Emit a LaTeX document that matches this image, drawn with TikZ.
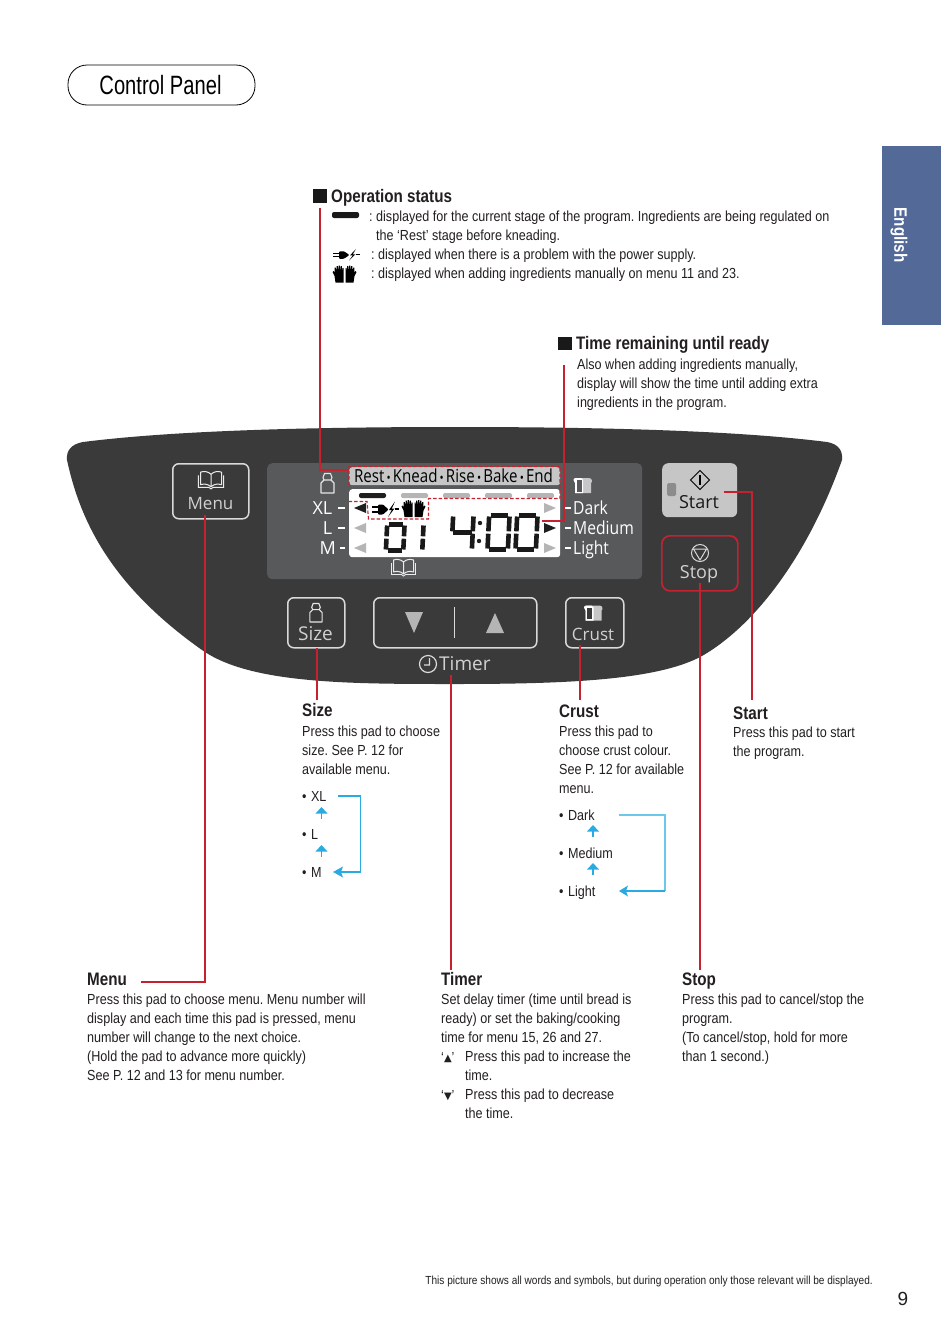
\documentclass[tikz,border=0pt]{standalone}
\usepackage{fontspec}
\setmainfont{Liberation Sans}
\newfontfamily\bodyf[FakeStretch=0.862]{Liberation Sans}
\newfontfamily\headf[FakeStretch=0.84]{Liberation Sans}
\newfontfamily\titlef[FakeStretch=0.76]{Liberation Sans}
\newfontfamily\panelf{Open Sans}
\newfontfamily\panelc[FakeStretch=0.87]{Open Sans}
\newfontfamily\panelt[FakeStretch=0.84]{Open Sans}
\newfontfamily\symf{DejaVu Sans}
\frenchspacing
\definecolor{paneldark}{HTML}{3A3A3B}
\definecolor{screengray}{HTML}{58595B}
\definecolor{lightpad}{HTML}{C6C6C7}
\definecolor{redline}{HTML}{C4222F}
\definecolor{skyline}{HTML}{29ABE2}
\definecolor{skylight}{HTML}{6CC8EA}
\definecolor{tabblue}{HTML}{536A99}
\definecolor{midgray}{HTML}{B5B5B6}
\definecolor{inktext}{HTML}{231F20}
\tikzset{
  x=1pt,y=-1pt,
  para/.style={anchor=north west,inner sep=0pt,align=left,text=inktext,
    font=\bodyf\fontsize{14.6}{19}\selectfont,execute at begin node={\rule{0pt}{11pt}}},
  head/.style={anchor=base west,inner sep=0pt,text=inktext,font=\headf\fontsize{18.1}{20}\bfseries\selectfont},
  padbox/.style={draw=white!85!black,line width=1.5pt,rounded corners=6pt,anchor=north west,inner sep=0pt},
  padtext/.style={inner sep=0pt,text height=13pt,text depth=0pt,text=white!82!black,font=\panelf\fontsize{18}{20}\selectfont},
  lcdtext/.style={inner sep=0pt,text height=13pt,text depth=0pt,text=white,font=\panelc\fontsize{18}{20}\selectfont},
  tick/.style={white,line width=1.2pt},
  redconn/.style={draw=redline,line width=1.1pt},
  reddash/.style={draw=redline,line width=1.1pt,dash pattern=on 3.5pt off 2pt},
  skyconn/.style={draw=skyline,line width=1.2pt},
  skyhead/.style={fill=skyline,draw=none},
  seg/.style={black!90,line width=4.6pt},
}
\newcommand\dig[5]{\begin{scope}[shift={(#1,#2)},xslant=0.05]\def\W{#3}\def\H{#4}#5\end{scope}}
\newcommand\sA{\draw[seg] (4,2.3) -- ({\W-4},2.3);}
\newcommand\sD{\draw[seg] (4,{\H-2.3}) -- ({\W-4},{\H-2.3});}
\newcommand\sG{\draw[seg] (3,{\H/2}) -- ({\W-3},{\H/2});}
\newcommand\sB{\draw[seg] ({\W-2.3},3.5) -- ({\W-2.3},{\H/2-1.2});}
\newcommand\sC{\draw[seg] ({\W-2.3},{\H/2+1.2}) -- ({\W-2.3},{\H-3.5});}
\newcommand\sF{\draw[seg] (2.3,3.5) -- (2.3,{\H/2-1.2});}
\newcommand\sE{\draw[seg] (2.3,{\H/2+1.2}) -- (2.3,{\H-3.5});}
% icons, centred on #1,#2
\newcommand\handsicon[3]{\begin{scope}[shift={(#1,#2)},scale=#3]
 \foreach \s in {-1,1}{\begin{scope}[xscale=\s]
  \fill[black] (1,-2) -- (1,8.5) -- (9,8.5) -- (10,2) -- (12,-2) -- (10.8,-3) -- (9.8,-1) -- (9.8,-6.5) -- (8.6,-6.5) -- (8.2,-1.5)
   -- (7.8,-8) -- (6.6,-8) -- (6.2,-1.5) -- (5.8,-8.5) -- (4.6,-8.5) -- (4.2,-1.5) -- (3.8,-8) -- (2.6,-8) -- (2.2,-1.5) -- (1.9,-6) -- (1,-6) -- cycle;
 \end{scope}}\end{scope}}
\newcommand\plugicon[3]{\begin{scope}[shift={(#1,#2)},scale=#3]
 \draw[black,line width=1.1pt] (-13,-2.5) -- (-6,-2.5) (-13,2.5) -- (-6,2.5) (10,-.5) -- (13.5,-.5);
 \fill[black,rounded corners=1pt] (-7,-5) -- (-2,-5) -- (3.5,0) -- (-2,5) -- (-7,5) -- cycle;
 \fill[black] (10,-8) -- (4,.5) -- (6.8,.5) -- (3,7.5) -- (9.5,-1) -- (6.8,-1) -- cycle;
 \end{scope}}
\newcommand\weighticon[3]{\begin{scope}[shift={(#1,#2)},scale=#3]
 \draw[white!90!black,line width=1.1pt,line join=round] (-3.5,-3) -- (-6.5,0) -- (-6.5,10) -- (6.5,10) -- (6.5,0) -- (3.5,-3) -- cycle;
 \draw[white!90!black,line width=1.1pt,line join=round] (-3.5,-3) -- (-4.5,-5.5) -- (-3,-9.5) -- (3,-9.5) -- (4.5,-5.5) -- (3.5,-3);
 \end{scope}}
\newcommand\breadicon[4]{\begin{scope}[shift={(#1,#2)},scale=#3]
 \fill[white!78!black] (-8,7.5) -- (-8,-2.5) .. controls (-10,-4) and (-10,-7.5) .. (-7,-7.5) -- (6,-7.5) .. controls (9.5,-7.5) and (9.5,-3) .. (8,-2.5) -- (8,7.5) -- cycle;
 \fill[white] (-8,7.5) -- (-8,-2.5) .. controls (-10,-4) and (-10,-7.5) .. (-7,-7.5) -- (-2,-7.5) -- (0,-6) -- (0,7.5) -- cycle;
 \fill[#4] (-6.3,-5.5) -- (-1.5,-5.5) -- (-1.5,6) -- (-6.3,6) -- cycle;
 \end{scope}}
\newcommand\bookicon[3]{\begin{scope}[shift={(#1,#2)},scale=#3]
 \draw[white!92!black,line width=1pt,line join=round] (0,-5) .. controls (-3,-8) and (-7,-8) .. (-10,-7) -- (-10,5) .. controls (-7,4) and (-3,4) .. (0,7) .. controls (3,4) and (7,4) .. (10,5) -- (10,-7) .. controls (7,-8) and (3,-8) .. (0,-5) -- (0,7);
 \draw[white!92!black,line width=.9pt] (-12,-4) -- (-12,7.5) -- (-2,7.5) -- (0,9) -- (2,7.5) -- (12,7.5) -- (12,-4);
 \end{scope}}
\begin{document}
\begin{tikzpicture}
\useasboundingbox (0,0) rectangle (950,1344);
\fill[white] (0,0) rectangle (950,1344);

% title and side tab
\node[draw=black,line width=.8pt,rounded corners=19pt,minimum width=187pt,minimum height=40pt,inner sep=0pt,
  font=\titlef\fontsize{26.5}{30}\selectfont] (title) at (161.5,85) {\kern-2pt Control Panel};
\node[fill=tabblue,minimum width=59pt,minimum height=179pt,inner sep=0pt] (tab) at (911.5,235.5) {};
\node[rotate=-90,text=white,inner sep=0pt,font=\headf\fontsize{18}{20}\bfseries\selectfont] (tabtext) at (899,235) {English};

% panel body
\fill[paneldark] (67,460) .. controls (66,450) and (72,444) .. (83,442)
  .. controls (170,431) and (300,427) .. (455,427)
  .. controls (610,427) and (740,431) .. (827,442)
  .. controls (838,444) and (843,450) .. (842,460)
  .. controls (810,550) and (760,620) .. (707,653)
  .. controls (665,680) and (570,684) .. (455,684)
  .. controls (350,684) and (250,684) .. (202,650)
  .. controls (110,585) and (80,520) .. (67,460) -- cycle;

% display
\node[fill=screengray,rounded corners=5pt,minimum width=375pt,minimum height=116pt,inner sep=0pt,anchor=north west] (screen) at (267,463) {};
\node[fill=lightpad,rounded corners=3pt,minimum width=211pt,minimum height=18pt,inner sep=0pt,anchor=north west] (stagebar) at (349,467) {};
\node[inner sep=0pt,text=black,font=\panelt\fontsize{18}{20}\selectfont] (stagetext) at (453.5,476) {Rest{\fontsize{13}{13}\selectfont\,•\,}Knead{\fontsize{13}{13}\selectfont\,•\,}Rise{\fontsize{13}{13}\selectfont\,•\,}Bake{\fontsize{13}{13}\selectfont\,•\,}End};
\node[fill=white,rounded corners=3pt,minimum width=211pt,minimum height=68pt,inner sep=0pt,anchor=north west] (lcd) at (349,489) {};
\fill[black!88,rounded corners=2pt] (359,493) rectangle (386,498);
\foreach \bx in {401,443,485,527}{\fill[midgray,rounded corners=1.5pt] (\bx,493) rectangle ({\bx+27},498);}
% side triangles
\fill[black!88] (354,508) -- (366,503) -- (366,513) -- cycle;
\fill[midgray] (354,528) -- (366,523) -- (366,533) -- cycle;
\fill[midgray] (354,548) -- (366,543) -- (366,553) -- cycle;
\fill[midgray] (556,508) -- (544,503) -- (544,513) -- cycle;
\fill[black!88] (556,528) -- (544,523) -- (544,533) -- cycle;
\fill[midgray] (556,548) -- (544,543) -- (544,553) -- cycle;
% digits
\dig{385}{522}{22}{31}{\sA\sB\sC\sD\sE\sF}
\dig{404}{522}{22}{31}{\sB\sC}
\dig{451}{513}{25}{39}{\sF\sG\sB\sC}
\dig{487}{513}{25}{39}{\sA\sB\sC\sD\sE\sF}
\dig{515}{513}{25}{39}{\sA\sB\sC\sD\sE\sF}
\fill[black!88] (480,523) circle (2.2) (479,541) circle (2.2);
\plugicon{385}{509.5}{1}
\handsicon{413.5}{508.5}{1}
% display side labels
\weighticon{327.5}{483}{1}
\breadicon{583}{485.5}{1}{screengray}
\bookicon{403.5}{567}{1}
\node[lcdtext,font=\panelf\fontsize{18}{20}\selectfont,anchor=east] (xl) at (332.5,508) {XL};
\node[lcdtext,font=\panelf\fontsize{18}{20}\selectfont,anchor=east] (ll) at (332.5,528) {L};
\node[lcdtext,font=\panelf\fontsize{18}{20}\selectfont,anchor=east] (mm) at (336,548) {M};
\foreach \yy in {508,528}{\draw[tick] (338,\yy) -- (345,\yy);}
\draw[tick] (340,548) -- (345,548);
\foreach \yy in {508,528,548}{\draw[tick] (565,\yy) -- (571,\yy);}
\node[lcdtext,anchor=west] (dk) at (573,508) {Dark};
\node[lcdtext,anchor=west] (md) at (573,528) {Medium};
\node[lcdtext,anchor=west] (lt) at (573,548) {Light};

% pads
\node[padbox,minimum width=76pt,minimum height=55pt] (menupad) at (172,463) {};
\bookicon{211}{479.5}{1.05}
\node[padtext,font=\panelf\fontsize{17}{20}\selectfont] (menutext) at (210.5,503) {Menu};
\node[fill=lightpad,rounded corners=6pt,minimum width=75pt,minimum height=54pt,inner sep=0pt,anchor=north west] (startpad) at (662,463) {};
\node[fill=black!45,rounded corners=1.5pt,minimum width=9pt,minimum height=13pt,inner sep=0pt] (led) at (671.5,489.5) {};
\draw[black,line width=1pt] (700,470.5) -- (709.5,480) -- (700,489.5) -- (690.5,480) -- cycle;
\draw[black,line width=1.4pt] (700,475) -- (700,485);
\node[padtext,text=black!90] (starttext) at (699,501.5) {Start};
\node[draw=redline,line width=1.7pt,rounded corners=8pt,minimum width=76pt,minimum height=55pt,inner sep=0pt,anchor=north west] (stoppad) at (661,535) {};
\draw[white!85!black,line width=1pt] (700,553) circle (8.5);
\draw[white!85!black,line width=1pt,line join=round] (693.5,549) -- (706.5,549) -- (700,560) -- cycle;
\node[padtext] (stoptext) at (699,572) {Stop};
\node[padbox,minimum width=57pt,minimum height=50pt] (sizepad) at (287,597) {};
\weighticon{316}{612.5}{.95}
\node[padtext,font=\panelf\fontsize{19}{20}\selectfont] (sizetext) at (315.5,634) {Size};
\node[padbox,minimum width=163pt,minimum height=50pt] (timerpad) at (373,597) {};
\fill[midgray] (405,612) -- (423,612) -- (414,633) -- cycle;
\fill[midgray] (486,633) -- (504,633) -- (495,613) -- cycle;
\draw[white!85!black,line width=1.2pt] (454.5,607) -- (454.5,638);
\node[padbox,minimum width=58pt,minimum height=50pt] (crustpad) at (565,597) {};
\breadicon{593.5}{613}{1}{paneldark}
\node[padtext,font=\panelf\fontsize{17}{20}\selectfont] (crusttext) at (593,634) {Crust};
\draw[white!85!black,line width=1.2pt] (428,664) circle (8.5) (429.5,658) -- (429.5,665) -- (424,665);
\node[padtext,font=\panelf\fontsize{19}{20}\selectfont,anchor=west] (timertext) at (439,664) {Timer};

% operation status
\fill[black!90] (313,189) rectangle (327,203);
\node[head] (ophead) at (331,202) {Operation status};
\fill[black!90,rounded corners=2pt] (332,212) rectangle (359,218);
\node[para] (op1) at (369,210) {: displayed for the current stage of the program. Ingredients are being regulated on};
\node[para] (op2) at (376,229) {the ‘Rest’ stage before kneading.};
\begin{scope}[shift={(346,255)},yscale=.75]\plugicon{0}{0}{1}\end{scope}
\node[para] (op3) at (371,248) {: displayed when there is a problem with the power supply.};
\handsicon{344.5}{274}{1}
\node[para] (op4) at (371,267) {: displayed when adding ingredients manually on menu 11 and 23.};
% time remaining
\fill[black!90] (558,337) rectangle (572,350);
\node[head] (tmhead) at (576,349) {Time remaining until ready};
\node[para] (tmbody) at (577,359) {Also when adding ingredients manually,\\display will show the time until adding extra\\ingredients in the program.};
% pad descriptions
\node[head] (szhead) at (302,716) {Size};
\node[para] (szbody) at (302,726) {Press this pad to choose\\size. See P. 12 for\\available menu.};
\node[para] (szxl) at (302,790) {•\hspace{4.5pt}XL};
\node[para] (szl) at (302,828) {•\hspace{4.5pt}L};
\node[para] (szm) at (302,866) {•\hspace{4.5pt}M};
\node[head] (crhead) at (559,717) {Crust};
\node[para] (crbody) at (559,726) {Press this pad to\\choose crust colour.\\See P. 12 for available\\menu.};
\node[para] (crd) at (559,809) {•\hspace{4.5pt}Dark};
\node[para] (crm) at (559,847) {•\hspace{4.5pt}Medium};
\node[para] (crl) at (559,885) {•\hspace{4.5pt}Light};
\node[head] (sthead) at (733,719) {Start};
\node[para] (stbody) at (733,727) {Press this pad to start\\the program.};
\node[head] (mnhead) at (87,985) {Menu};
\node[para] (mnbody) at (87,994) {Press this pad to choose menu. Menu number will\\display and each time this pad is pressed, menu\\number will change to the next choice.\\(Hold the pad to advance more quickly)\\See P. 12 and 13 for menu number.};
\node[head] (tihead) at (441,985) {Timer};
\node[para] (tibody) at (441,994) {Set delay timer (time until bread is\\ready) or set the baking/cooking\\time for menu 15, 26 and 27.};
\node[para] (tiup) at (441,1051) {‘\raisebox{.8pt}{\symf\fontsize{10}{10}\selectfont ▲}’};
\node[para] (tiupt) at (465,1051) {Press this pad to increase the\\time.};
\node[para] (tidn) at (441,1089) {‘\raisebox{.8pt}{\symf\fontsize{10}{10}\selectfont ▼}’};
\node[para] (tidnt) at (465,1089) {Press this pad to decrease\\the time.};
\node[head] (sphead) at (682,985) {Stop};
\node[para] (spbody) at (682,994) {Press this pad to cancel/stop the\\program.\\(To cancel/stop, hold for more\\than 1 second.)};
% footer
\node[anchor=base east,inner sep=0pt,text=inktext,font=\bodyf\fontsize{11.7}{14}\selectfont] (foot) at (873,1284) {This picture shows all words and symbols, but during operation only those relevant will be displayed.};
\node[anchor=base,inner sep=0pt,text=inktext,font=\fontsize{19}{20}\selectfont] (pageno) at (903,1305) {9};

% red connectors
\coordinate (opTop) at (320,208);
\coordinate (opCorner) at (320,470);
\coordinate (opEnd) at (349,470);
\draw[redconn] (opTop) -- (opCorner) -- (opEnd);
\draw[reddash] (349,485) -- (349,466.5) -- (560,466.5) -- (560,498.5) -- (428.5,498.5) -- (428.5,519) -- (368.5,519) -- (367,501.5) -- (349,501.5);
\coordinate (tmTop) at (564,365);
\coordinate (tmCorner) at (564,521);
\coordinate (tmEnd) at (542,521);
\draw[redconn] (tmTop) -- (tmCorner) -- (tmEnd);
\coordinate (mnA) at (205,515);
\coordinate (mnB) at (205,982);
\coordinate (mnC) at (141,982);
\draw[redconn] (mnA) -- (mnB) -- (mnC);
\coordinate (szA) at (317,648);
\coordinate (szB) at (317,700);
\draw[redconn] (szA) -- (szB);
\coordinate (tiA) at (451,675);
\coordinate (tiB) at (451,970);
\draw[redconn] (tiA) -- (tiB);
\coordinate (crA) at (580,645);
\coordinate (crB) at (580,700);
\draw[redconn] (crA) -- (crB);
\coordinate (spA) at (700,583);
\coordinate (spB) at (700,970);
\draw[redconn] (spA) -- (spB);
\coordinate (saA) at (724,492);
\coordinate (saB) at (752,492);
\coordinate (saC) at (752,700);
\draw[redconn] (saA) -- (saB) -- (saC);

% blue cycle arrows
\coordinate (sza) at (338,796);
\coordinate (szb) at (360.5,796);
\coordinate (szc) at (360.5,872);
\coordinate (szd) at (340,872);
\draw[skyconn] (sza) -- (szb) -- (szc) -- (szd);
\fill[skyhead] (333,872) -- (343,866.5) -- (341,872) -- (343,877.5) -- cycle;
\foreach \ty in {807,845}{
  \draw[skyconn] (321.5,\ty+4) -- (321.5,\ty+12);
  \fill[skyhead] (321.5,\ty) -- (327.5,\ty+6.5) -- (315.5,\ty+6.5) -- cycle;}
\coordinate (cra) at (619,815);
\coordinate (crb) at (665,815);
\coordinate (crc) at (665,891);
\coordinate (crd2) at (625,891);
\draw[draw=skylight,line width=1.1pt] (cra) -- (crb) -- (crc);
\draw[skyconn] (crc) -- (crd2);
\fill[skyhead] (619,891) -- (628,885.5) -- (626,891) -- (628,896.5) -- cycle;
\foreach \ty in {825,863}{
  \draw[skyconn] (593,\ty+4) -- (593,\ty+12);
  \fill[skyhead] (593,\ty) -- (599,\ty+6.5) -- (587,\ty+6.5) -- cycle;}
\end{tikzpicture}
\end{document}
